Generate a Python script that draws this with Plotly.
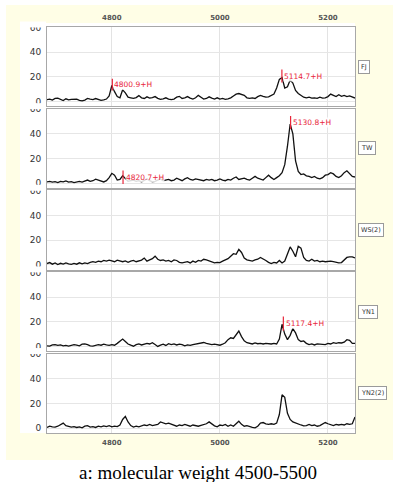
import plotly.graph_objects as go
from plotly.subplots import make_subplots

# ---------------- data ----------------
mz = list(range(4680, 5251, 5))

FJ = [1.5, 2.0, 1.2, 2.5, 2.8, 1.5, 0.8, 2.2, 1.4, 1.8, 2.2, 2.0, 1.0, 0.5, 1.2, 2.5, 2.0, 1.6, 2.4, 1.5,
      1.0, 1.3, 2.0, 4.5, 13.0, 8.0, 4.0, 3.0, 9.5, 7.0, 3.5, 3.0, 2.5, 3.2, 4.8, 3.0, 2.5, 3.8, 2.8, 3.2,
      4.0, 2.6, 1.8, 2.2, 3.0, 2.0, 1.5, 2.0, 3.5, 4.2, 2.5, 3.0, 4.0, 2.8, 2.0, 3.0, 5.0, 3.5, 2.0, 2.5,
      3.8, 2.8, 2.0, 3.0, 2.0, 2.5, 1.8, 2.2, 3.0, 4.5, 6.0, 6.5, 5.5, 5.0, 3.0, 2.5, 3.0, 2.5, 4.0, 5.0,
      4.2, 3.5, 3.8, 5.0, 6.0, 11.0, 18.0, 19.5, 11.0, 12.0, 17.5, 15.0, 9.0, 6.5, 5.0, 3.5, 3.0, 3.5, 2.8, 3.0,
      2.5, 3.5, 2.8, 3.0, 4.0, 6.0, 5.0, 4.0, 5.5, 4.2, 5.0, 4.0, 4.5, 3.5, 2.8]

TW = [1.0, 1.5, 0.8, 1.2, 0.5, 1.5, 1.0, 1.8, 0.8, 1.2, 0.5, 1.0, 1.5, 0.8, 1.8, 2.5, 1.5, 2.0, 3.2, 2.5,
      1.5, 1.0, 2.0, 4.5, 8.0, 6.5, 2.5, 3.0, 6.0, 4.0, 1.5, 2.0, 2.5, 1.5, 2.0, 1.0, 2.5, 3.5, 2.0, 1.0,
      1.5, 2.8, 3.5, 2.0, 2.5, 3.0, 2.0, 2.5, 4.0, 3.0, 2.0, 3.5, 4.5, 3.0, 2.5, 3.5, 3.0, 2.5, 2.0, 3.0,
      2.5, 3.0, 2.0, 2.5, 3.5, 2.5, 2.0, 3.0, 2.5, 4.0, 5.0, 3.0, 3.5, 4.0, 3.0, 2.5, 4.0, 5.5, 4.0, 3.0,
      2.5, 4.5, 6.5, 4.5, 3.0, 4.5, 6.0, 8.5, 15.0, 30.0, 48.0, 40.0, 18.0, 9.5, 7.0, 7.5, 6.0, 5.5, 4.5, 5.5,
      4.0, 3.5, 4.5, 6.5, 7.0, 8.5, 7.5, 5.5, 4.5, 6.0, 8.5, 10.0, 7.5, 5.5, 5.0]

WS2 = [1.0, 1.8, 0.5, 1.5, 0.2, 1.2, 0.5, 1.5, 0.8, 0.3, 1.2, 0.5, 1.6, 0.8, 1.5, 1.0, 2.0, 2.5, 2.0, 3.0,
       2.5, 3.5, 3.0, 3.8, 3.2, 2.5, 3.8, 3.0, 2.5, 3.2, 2.0, 3.0, 3.5, 2.5, 3.0, 3.8, 5.5, 3.0, 4.0, 5.0,
       7.0, 4.5, 3.5, 4.0, 3.0, 3.5, 2.5, 4.0, 3.5, 2.0, 1.5, 2.0, 2.5, 1.5, 3.0, 2.0, 3.5, 3.0, 4.5, 4.0,
       3.0, 2.0, 1.5, 2.0, 1.8, 3.0, 4.0, 5.0, 7.0, 9.0, 8.5, 12.5, 10.0, 5.5, 4.0, 3.5, 3.0, 4.0, 4.5, 6.0,
       5.0, 3.5, 2.0, 1.0, 2.0, 1.5, 3.5, 1.5, 3.0, 9.0, 14.5, 11.0, 6.5, 15.0, 13.5, 6.0, 3.5, 3.0, 4.5, 3.0,
       3.5, 2.5, 3.0, 2.5, 2.8, 3.0, 2.5, 2.0, 1.5, 1.8, 4.0, 6.0, 6.5, 6.5, 5.5]

YN1 = [0.5, 0.2, 1.2, 1.5, 0.8, 1.2, 0.5, 0.8, 0.2, 0.8, 1.5, 1.0, 0.5, 1.8, 2.0, 1.5, 0.5, 0.2, 0.8, 1.5,
       1.0, 1.8, 1.2, 0.8, 1.5, 1.0, 2.5, 4.0, 6.0, 4.0, 2.0, 1.0, 0.2, 1.5, 2.0, 1.2, 1.8, 2.5, 2.0, 3.0,
       1.5, 0.0, 1.0, 1.8, 0.8, 2.2, 1.5, 2.0, 1.2, 1.8, 1.5, 0.5, 1.2, 0.8, 1.5, 2.0, 2.5, 2.8, 3.2, 2.5,
       2.0, 1.5, 1.8, 1.5, 1.0, 1.8, 3.0, 5.5, 7.0, 6.5, 10.0, 12.5, 8.0, 4.5, 3.0, 2.5, 2.0, 2.8, 2.2, 2.5,
       2.0, 2.5, 2.2, 2.0, 2.5, 2.0, 6.0, 18.0, 10.0, 5.5, 9.0, 14.5, 11.0, 5.5, 4.0, 4.5, 2.5, 1.5, 2.0, 1.2,
       2.0, 1.8, 2.2, 1.5, 2.5, 2.0, 3.0, 2.5, 3.0, 2.8, 3.5, 5.5, 5.0, 2.5, 2.5]

YN2_2 = [0.5, 1.5, 1.0, 0.8, 1.5, 3.0, 4.0, 2.0, 1.2, 0.8, 1.2, 0.5, 1.0, 0.2, 1.5, 2.0, 0.8, 1.2, 0.5, 1.5,
         1.0, 1.8, 1.2, 2.0, 1.0, 1.5, 1.2, 2.5, 7.0, 9.5, 5.0, 2.0, 0.8, 1.5, 1.0, 1.8, 2.5, 2.0, 3.0, 2.0,
         2.5, 3.0, 5.0, 4.0, 3.5, 4.0, 3.0, 2.0, 1.5, 2.5, 2.0, 3.0, 2.2, 1.5, 2.5, 2.0, 1.5, 2.2, 2.8, 3.5,
         5.0, 3.0, 1.8, 1.0, 2.5, 2.0, 3.0, 1.5, 2.5, 1.5, 3.5, 5.5, 3.0, 1.5, 2.0, 1.0, 0.5, 0.2, 1.5, 4.0,
         4.5, 3.5, 3.0, 3.5, 3.0, 4.0, 11.0, 27.0, 25.0, 12.0, 7.0, 5.0, 4.0, 3.0, 2.5, 1.8, 2.0, 3.0, 2.0, 2.5,
         1.5, 2.0, 3.0, 4.5, 3.5, 2.5, 2.0, 3.0, 2.5, 3.0, 2.5, 3.5, 3.0, 3.5, 9.0]

series_names = ["FJ", "TW", "WS(2)", "YN1", "YN2(2)"]
series_values = [FJ, TW, WS2, YN1, YN2_2]

# peak labels (panel index, m/z, line low, line high, label text, label x, label y)
peak_panel = [1, 1, 2, 2, 4]
peak_mz = [4800.9, 5114.7, 4820.7, 5130.8, 5117.4]
peak_lo = [9.0, 15.5, -0.6, 44.0, 12.8]
peak_hi = [18.5, 26.0, 10.2, 54.5, 24.3]
peak_text = ["4800.9+H", "5114.7+H", "4820.7+H", "5130.8+H", "5117.4+H"]
peak_label_x = [4803.0, 5117.5, 4823.5, 5133.5, 5120.5]
peak_label_y = [13.8, 20.5, 4.9, 49.0, 19.0]

x_ticks = [4800, 5000, 5200]
y_ticks = [0, 20, 40, 60]
caption = "a: molecular weight 4500-5500"

# ---------------- figure ----------------
W, H = 398, 482
ML, MR, MT, MB = 47, 43, 27, 49
PW, PH = W - ML - MR, H - MT - MB


def px_x(px):
    return (px - ML) / PW


def px_y(py):
    return (H - MB - py) / PH


fig = make_subplots(rows=5, cols=1, shared_xaxes=True, vertical_spacing=0.0054)

RED = "#e8263a"
for i, (name, vals) in enumerate(zip(series_names, series_values), start=1):
    fig.add_trace(go.Scatter(x=mz, y=vals, mode="lines",
                             line=dict(color="#111111", width=1.3),
                             showlegend=False, hoverinfo="skip"), row=i, col=1)

for p, m, lo, hi in zip(peak_panel, peak_mz, peak_lo, peak_hi):
    fig.add_trace(go.Scatter(x=[m, m], y=[lo, hi], mode="lines",
                             line=dict(color=RED, width=1.2),
                             showlegend=False, hoverinfo="skip"), row=p, col=1)

for p, t, lx, ly in zip(peak_panel, peak_text, peak_label_x, peak_label_y):
    sfx = "" if p == 1 else str(p)
    fig.add_annotation(x=lx, y=ly, xref="x" + sfx, yref="y" + sfx, text=t,
                       showarrow=False, xanchor="left", yanchor="middle",
                       font=dict(family="DejaVu Sans", size=7.5, color=RED),
                       bgcolor="rgba(255,255,255,0.85)", borderpad=0)

# side labels
for i, name in enumerate(series_names, start=1):
    sfx = "" if i == 1 else str(i)
    fig.add_annotation(x=px_x(358), xref="paper", xanchor="left",
                       y=0.5, yref="y" + sfx + " domain", yanchor="middle",
                       text=name, showarrow=False,
                       font=dict(family="DejaVu Sans", size=6.5, color="#333333"),
                       bgcolor="white", bordercolor="#9a9a9a", borderwidth=1, borderpad=2)

# caption
fig.add_annotation(x=px_x(197.5), xref="paper", y=px_y(472.5), yref="paper", text=caption,
                   showarrow=False, xanchor="center", yanchor="middle",
                   font=dict(family="Liberation Serif", size=19, color="black"))

# backgrounds
shapes = [
    dict(type="rect", xref="paper", yref="paper", layer="below",
         x0=px_x(6), x1=px_x(393), y0=px_y(460), y1=px_y(5),
         fillcolor="#fffee6", line=dict(width=0)),
    dict(type="rect", xref="paper", yref="paper", layer="below",
         x0=px_x(20), x1=px_x(355), y0=px_y(433), y1=px_y(23),
         fillcolor="white", line=dict(width=0)),
]
# clip the top tick label ("60") of each panel at the panel's top edge
for i in range(1, 6):
    dom = fig.layout["yaxis" + ("" if i == 1 else str(i))].domain
    top = dom[1]
    shapes.append(dict(type="rect", xref="paper", yref="paper", layer="above",
                       x0=px_x(20), x1=px_x(46), y0=top - 0.5 / PH, y1=top + 5.5 / PH,
                       fillcolor="white", line=dict(width=0)))
fig.update_layout(shapes=shapes)

axis_line = "#a8a8a8"
for i in range(1, 6):
    fig.update_xaxes(row=i, col=1, range=[4680, 5250], tickvals=x_ticks,
                     showgrid=True, gridcolor="#e3e3e3", gridwidth=1,
                     showline=True, linecolor=axis_line, linewidth=1, mirror=True,
                     zeroline=False, ticks="outside", ticklen=3, tickcolor="rgba(0,0,0,0)",
                     tickfont=dict(family="DejaVu Sans", size=7, color="#555555", weight="bold"),
                     showticklabels=(i == 5))
    fig.update_yaxes(row=i, col=1, range=[-4, 60.5], tickvals=y_ticks,
                     showgrid=True, gridcolor="#e6e6e6", gridwidth=1,
                     showline=True, linecolor=axis_line, linewidth=1, mirror=True,
                     zeroline=False, ticks="outside", ticklen=3, tickcolor="rgba(0,0,0,0)",
                     tickfont=dict(family="DejaVu Sans", size=9, color="#333333"))
fig.update_xaxes(row=1, col=1, showticklabels=True, side="top")

fig.update_layout(width=W, height=H, margin=dict(l=ML, r=MR, t=MT, b=MB),
                  paper_bgcolor="white", plot_bgcolor="white", showlegend=False)

fig.write_html("out.html", config={"displayModeBar": False},
               post_script="document.body.style.margin='0px';")
